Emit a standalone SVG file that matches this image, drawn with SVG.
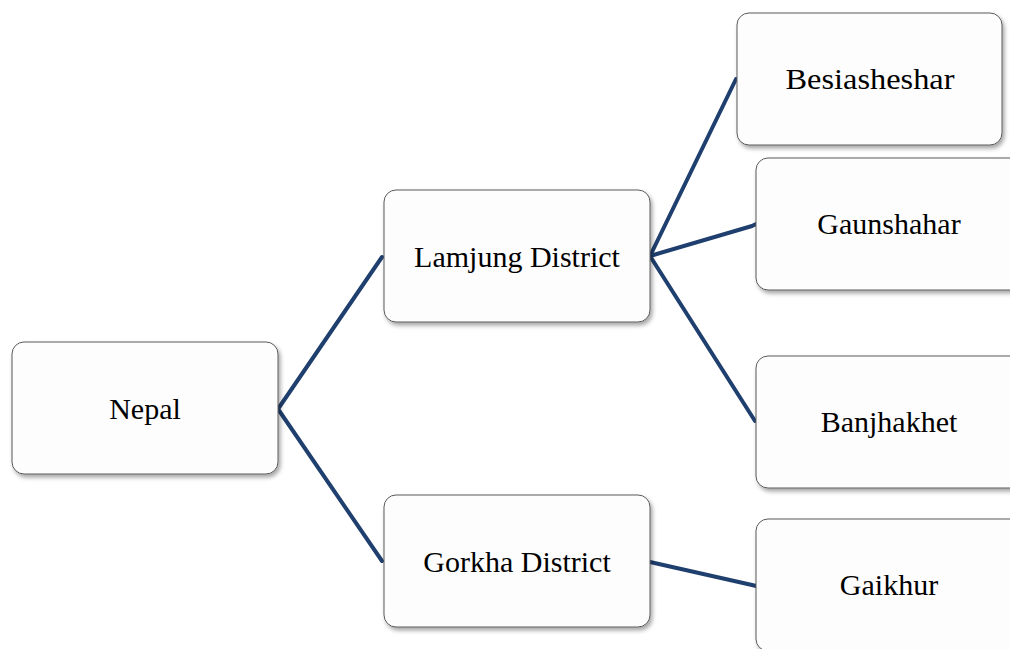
<svg xmlns="http://www.w3.org/2000/svg" width="1010" height="649" viewBox="0 0 1010 649">
<style>
.box{fill:#fdfdfd;stroke:#5a5a5a;stroke-width:1;filter:url(#sh)}
.lbl{font-family:"Liberation Serif","Times New Roman",serif;font-size:30px;fill:#000;text-anchor:middle}
.con{stroke:#1f3f6e;stroke-width:4;fill:none;stroke-linecap:round;stroke-linejoin:round}
</style>
<defs>
<filter id="sh" x="-10%" y="-10%" width="130%" height="140%">
<feDropShadow dx="2" dy="3" stdDeviation="2" flood-color="#000" flood-opacity="0.35"/>
</filter>
</defs>
<rect width="1010" height="649" fill="#fff"/>
<g id="connectors">
<polyline class="con" points="382,257 278,409 382,561"/>
<line class="con" x1="650" y1="256" x2="736" y2="79"/>
<polyline class="con" points="650,256 752,226 756,224"/>
<line class="con" x1="650" y1="256" x2="755" y2="421"/>
<polyline class="con" points="650,562 752,585 756,586"/>
</g>
<g id="nepal"><rect class="box" x="12" y="342" width="266" height="132" rx="12"/><text class="lbl" x="145" y="419">Nepal</text></g>
<g id="lamjung"><rect class="box" x="384" y="190" width="266" height="132" rx="12"/><text class="lbl" x="517" y="267">Lamjung District</text></g>
<g id="gorkha"><rect class="box" x="384" y="495" width="266" height="132" rx="12"/><text class="lbl" x="517" y="572">Gorkha District</text></g>
<g id="besiasheshar"><rect class="box" x="737" y="13" width="265" height="132" rx="12"/><text class="lbl" x="870" y="89" textLength="169" lengthAdjust="spacingAndGlyphs">Besiasheshar</text></g>
<g id="gaunshahar"><rect class="box" x="756" y="158" width="266" height="132" rx="12"/><text class="lbl" x="889" y="234">Gaunshahar</text></g>
<g id="banjhakhet"><rect class="box" x="756" y="356" width="266" height="132" rx="12"/><text class="lbl" x="889" y="432">Banjhakhet</text></g>
<g id="gaikhur"><rect class="box" x="756" y="519" width="266" height="132" rx="12"/><text class="lbl" x="889" y="595">Gaikhur</text></g>
</svg>
